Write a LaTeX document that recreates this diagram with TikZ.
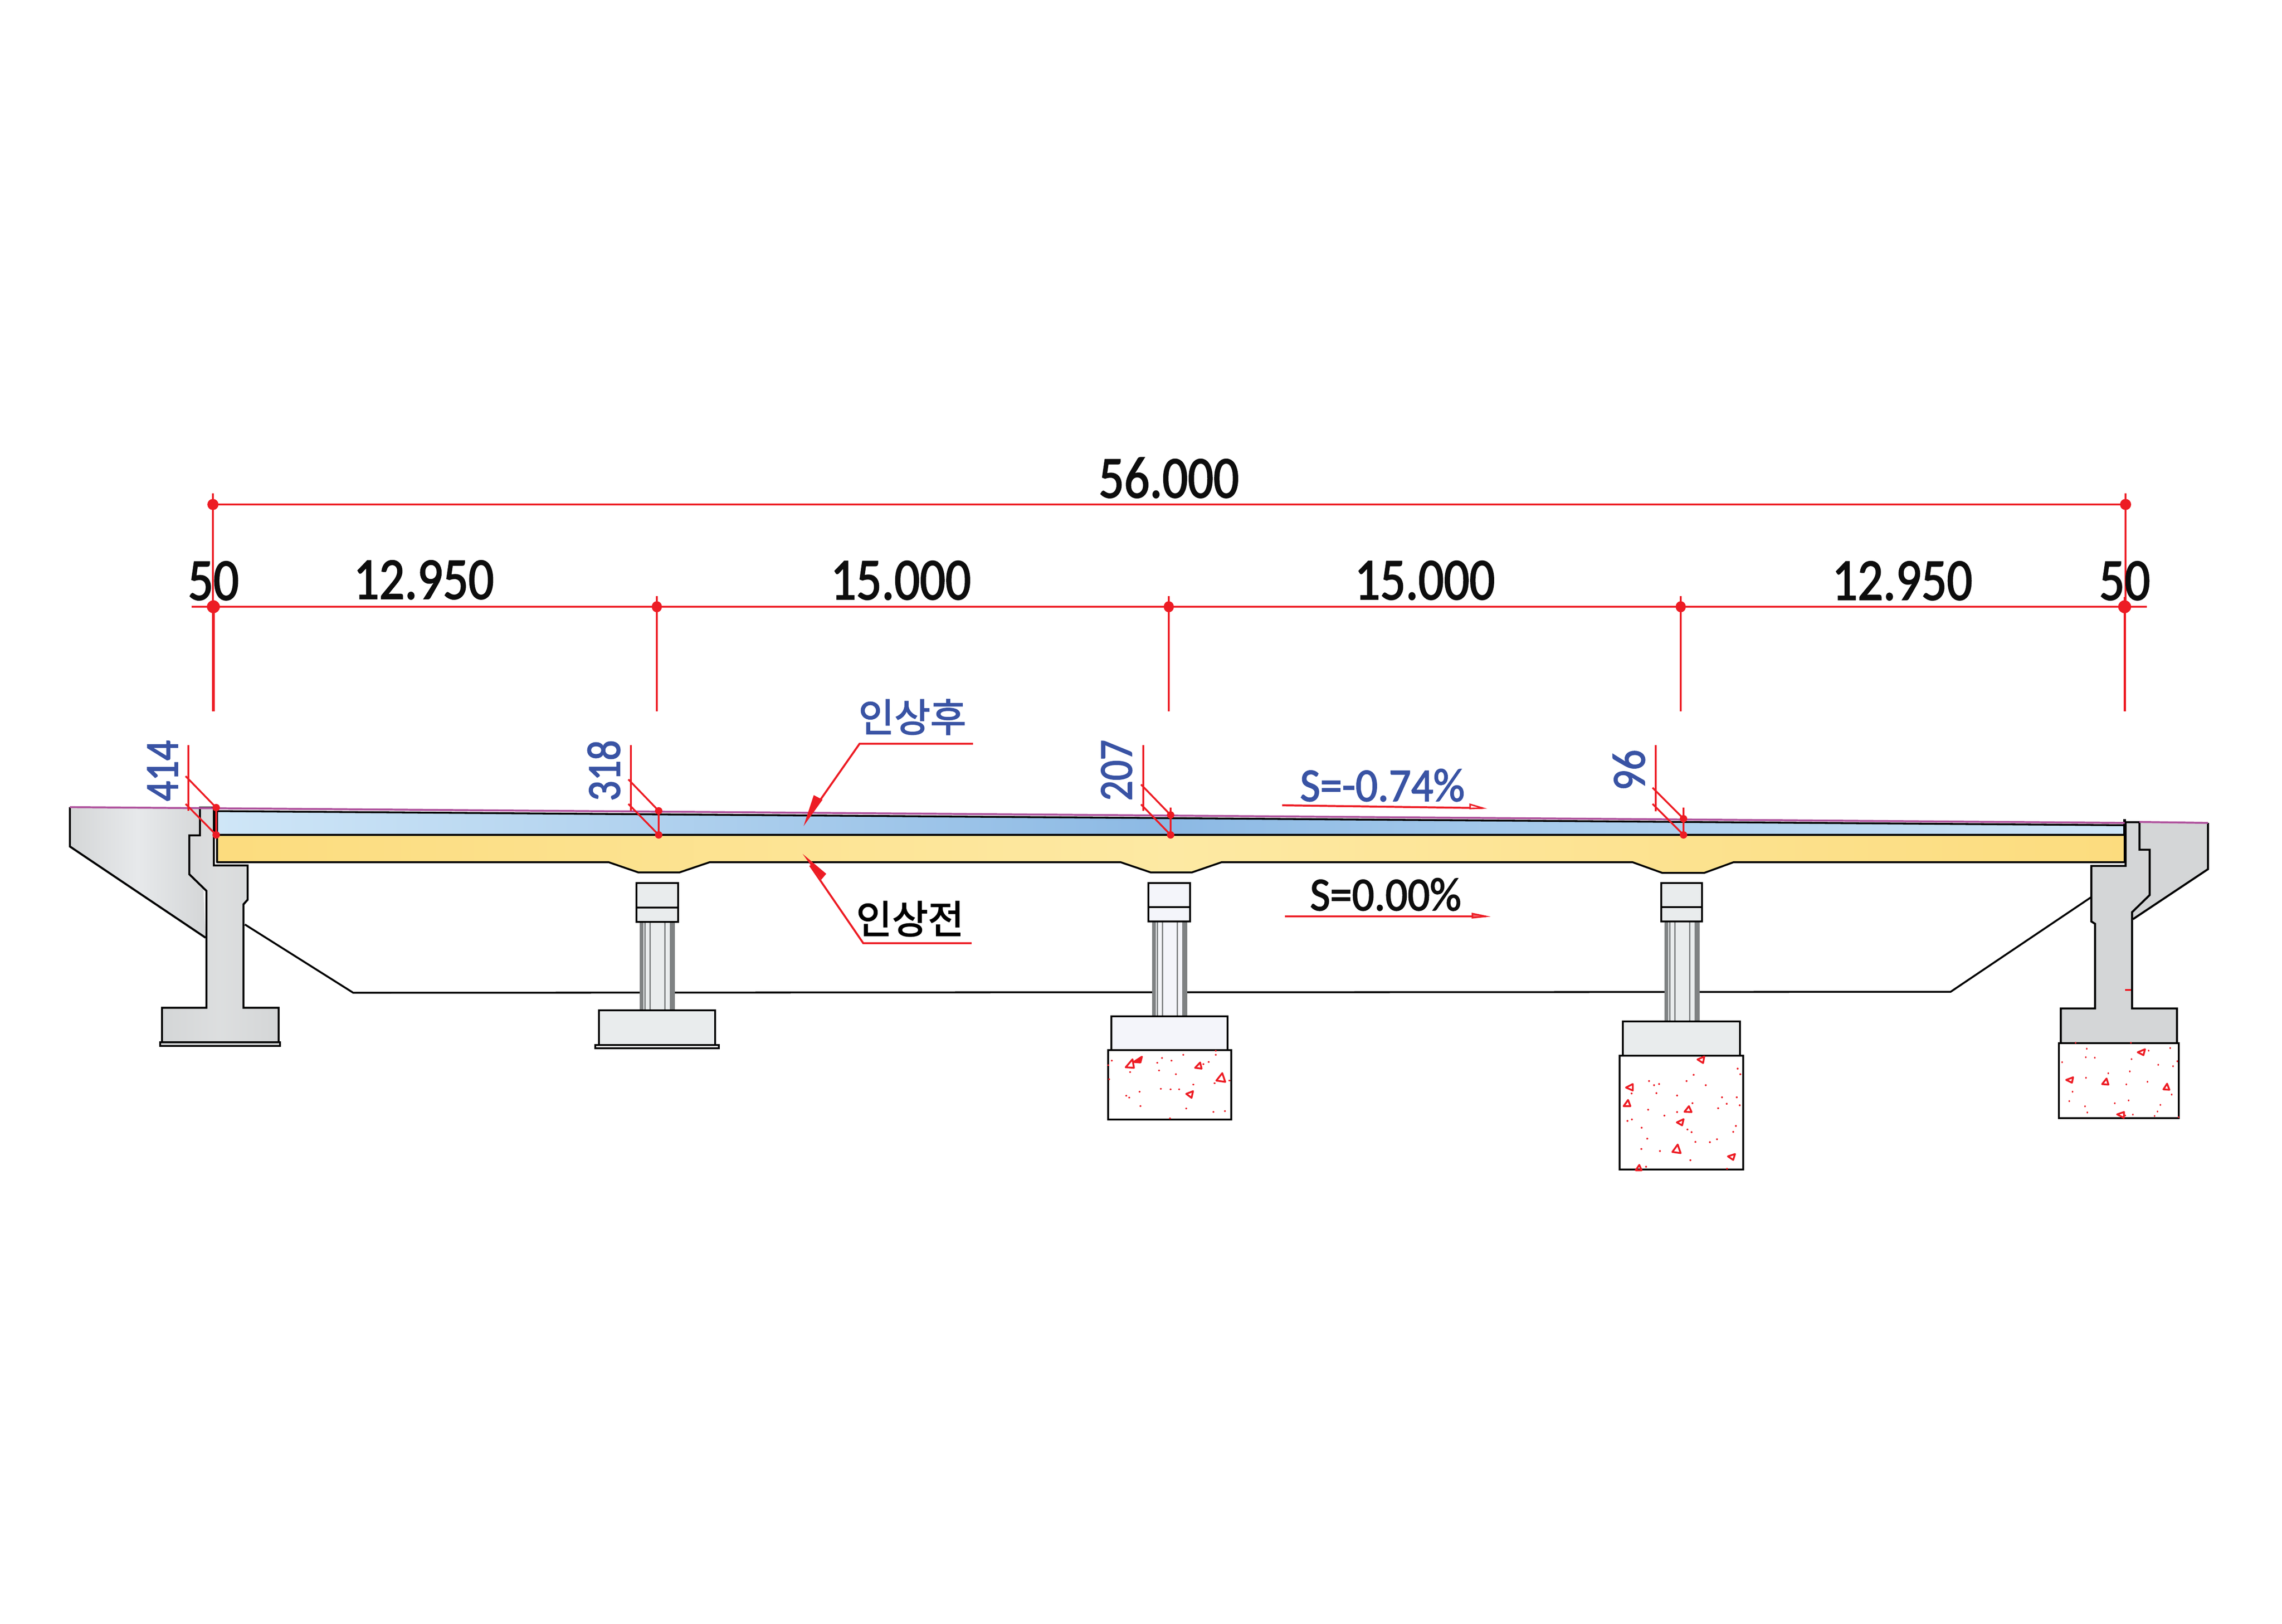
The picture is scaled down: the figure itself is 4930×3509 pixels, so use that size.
\documentclass[tikz,border=0pt]{standalone}
\usepackage{fontspec}
\setmainfont{Carlito}
\newfontfamily\dimf[FakeStretch=0.85,FakeBold=1.8]{Carlito}
\newfontfamily\dimsl[FakeStretch=0.93,FakeBold=1.8]{Carlito}
\newfontfamily\korf[FakeBold=2.2]{Noto Sans CJK KR}
\definecolor{rd}{HTML}{ED1C24}
\definecolor{mg}{HTML}{B0539E}
\definecolor{bt}{HTML}{3953A4}
\definecolor{skyA}{HTML}{CFE6F7}
\definecolor{skyB}{HTML}{8CB9E4}
\definecolor{ylA}{HTML}{FCDC7E}
\definecolor{ylB}{HTML}{FDE9A3}
\definecolor{grA}{HTML}{D4D6D7}
\definecolor{grB}{HTML}{E7E9EB}
\definecolor{stripe}{HTML}{7F8283}
\definecolor{colA}{HTML}{E9ECED}
\definecolor{colB}{HTML}{F4F5FA}
\tikzset{
  blk/.style={draw=black,line width=1.25pt,line join=miter},
  thinblk/.style={draw=black,line width=1.15pt,line join=round},
  dimln/.style={draw=rd,line width=1.2pt},
  reddot/.style={fill=rd},
  bigtxt/.style={inner sep=0pt,anchor=base,text=black!95,font=\dimf\fontsize{36.4}{40}\selectfont},
  smalltxt/.style={inner sep=0pt,anchor=base,text=bt,font=\dimf\fontsize{29}{32}\selectfont},
  slopetxt/.style={inner sep=0pt,anchor=base,text=bt,font=\dimsl\fontsize{29}{32}\selectfont},
  kor/.style={inner sep=0pt,anchor=base,font=\korf\fontsize{24}{26}\selectfont},
  spk/.style={draw=rd,line width=1.1pt,line join=round},
}
% #1 column left, #2 top, #3 bottom, #4 fill
\newcommand\pierstem[4]{%
  \fill[#4] (#1,#2) rectangle ++(76,#3-#2);
  \fill[stripe] (#1,#2) rectangle ++(8,#3-#2);
  \fill[stripe] ({#1+65},#2) rectangle ++(11,#3-#2);
  \foreach \o in {11,22,54}{\fill[stripe] ({#1+\o-1},#2) rectangle ++(2.6,#3-#2);}
}
\newcommand\dimset[9]{%
  % #1 vertical x, #2 ytop, #3 ybot, #4 slant-left x, #5 y1, #6 y2, #7 dot x, #8 dot top y, #9 tick top
  \draw[dimln,line width=1pt] (#1,#2) -- (#1,#3);
  \draw[dimln,line width=1.1pt] (#4,#5) -- (#7,#8);
  \draw[dimln,line width=1.1pt] (#4,#6) -- (#7,1804);
  \draw[dimln,line width=1.1pt] (#7,#9) -- (#7,1804);
  \fill[reddot] (#7,#8) circle[radius=8];
  \fill[reddot] (#7,1804) circle[radius=8];
}
\begin{document}
\begin{tikzpicture}[x=0.01cm,y=-0.01cm]
\useasboundingbox[fill=white] (0,0) rectangle (4930,3509);

% soffit line
\draw[thinblk] (529,1997.5) -- (763,2145) -- (4214,2143) -- (4517,1939);

% left wing + abutment
\shade[left color=grA,right color=grA,middle color=grB] (151,1744) -- (432,1745) -- (444,2026) -- (151,1829) -- cycle;
\draw[blk] (151,1744) -- (151,1829) -- (444,2026);
\path[blk,fill=grA] (346,2252) rectangle (605,2260);
\path[blk,left color=grA,right color=grA,middle color=grA!80!white] (432,1745) -- (462,1745) -- (462,1870) -- (535,1870) -- (535,1944) -- (526,1954) -- (526,2177.5) -- (602,2177.5) -- (602,2252) -- (350,2252) -- (350,2177.5) -- (446,2177.5) -- (446,1925) -- (409,1889) -- (409,1805) -- (432,1805) -- cycle;

% right wing + abutment
\shade[left color=grA,right color=grA,middle color=grA] (4622,1778) -- (4770,1778) -- (4770,1878) -- (4606,1986) -- (4606,1934) -- (4622,1900) -- cycle;
\draw[blk] (4770,1778) -- (4770,1878) -- (4608,1986);
\path[blk,fill=grA] (4592,1776.5) -- (4622,1776.5) -- (4622,1836) -- (4644,1836) -- (4644,1934) -- (4606,1971) -- (4606,2179) -- (4703,2179) -- (4703,2254) -- (4452,2254) -- (4452,2179) -- (4526,2179) -- (4526,1996) -- (4518,1991) -- (4518,1871) -- (4592,1871) -- cycle;
\draw[dimln] (4591,2139) -- (4604,2139);

% deck layers
\path[thinblk,left color=skyA,right color=skyA,middle color=skyB] (469,1752.5) -- (4590,1783) -- (4590,1804) -- (469,1804) -- cycle;
\path[thinblk,left color=ylA,right color=ylA,middle color=ylB] (469,1804) -- (4590,1804) -- (4590,1863) -- (3745,1863) -- (3682,1886) -- (3591,1886) -- (3527,1863) -- (2639,1863) -- (2575,1885) -- (2486,1885) -- (2421,1863) -- (1533,1863) -- (1468,1885) -- (1379,1885) -- (1315,1863) -- (469,1863) -- cycle;
\draw[black,line width=1.9pt] (463.5,1745) -- (463.5,1803);
\draw[black,line width=1.9pt] (4590,1770) -- (4590,1804);

% magenta top line
\draw[mg,line width=1.2pt] (151,1744) -- (4590,1778);
\draw[mg,line width=1.2pt] (4622,1776) -- (4770,1778);

% pier 1
\pierstem{1382}{1992}{2183}{colA}
\path[blk,fill=colA] (1375,1908) rectangle (1465,1992);
\draw[blk] (1375,1961) -- (1465,1961);
\path[blk,fill=colA] (1294,2183) rectangle (1545,2258);
\path[blk,fill=white] (1286,2258) rectangle (1553,2265);

% pier 2
\pierstem{2489}{1991}{2196}{colB}
\path[blk,fill=colB] (2481,1908) rectangle (2571,1991);
\draw[blk] (2481,1960) -- (2571,1960);
\path[blk,fill=colB] (2401,2196) rectangle (2652,2269);
\path[blk,fill=white] (2394,2269) rectangle (2660,2419);

% pier 3
\pierstem{3596}{1991}{2207}{colA}
\path[blk,fill=colA] (3589,1908) rectangle (3677,1991);
\draw[blk] (3589,1960) -- (3677,1960);
\path[blk,fill=colA] (3506,2207) rectangle (3759,2281);
\path[blk,fill=white] (3499,2281) rectangle (3766,2527);

% right abutment foundation
\path[blk,fill=white] (4448,2254) rectangle (4707,2416);

% specks pier 2
\begin{scope}[shift={(2250,1600)},x=0.0063775cm,y=-0.0057405cm]
\foreach \a/\b in {238/1205,226/1222,229/1275,300/1248,392/1213,408/1195,440/1205,480/1183,398/1242,455/1256,590/1168,590/1183,566/1210,548/1218,636/1280,586/1290,514/1295,404/1311,437/1313,466/1313,332/1322,287/1337,297/1344,335/1376,490/1385,582/1398,621/1395,435/1422}
  {\fill[rd] (\a,\b) circle[radius=3.2];}
\draw[spk] (285,1230) -- (308,1200) -- (313,1232) -- cycle;
\draw[spk] (520,1232) -- (537,1212) -- (542,1235) -- cycle;
\draw[spk] (592,1280) -- (612,1252) -- (622,1285) -- cycle;
\draw[spk] (490,1330) -- (513,1320) -- (508,1345) -- cycle;
\filldraw[spk,fill=rd] (312,1210) -- (340,1190) -- (335,1212) -- cycle;
\end{scope}

% specks pier 3
\begin{scope}[shift={(3350,1600)},x=0.0063775cm,y=-0.0063775cm]
\foreach \a/\b in {633/1111,642/1130,484/1132,460/1153,333/1153,350/1167,367/1163,525/1167,358/1194,274/1195,428/1202,580/1208,630/1208,596/1230,640/1235,567/1245,480/1228,330/1250,428/1258,385/1270,260/1288,275/1283,308/1311,627/1305,618/1325,463/1317,477/1326,327/1348,490/1359,539/1360,563/1350,307/1383,370/1390,473/1421,597/1450,323/1443}
  {\fill[rd] (\a,\b) circle[radius=3.2];}
\draw[spk] (497,1080) -- (520,1070) -- (516,1092) -- cycle;
\draw[spk] (255,1175) -- (278,1163) -- (278,1185) -- cycle;
\draw[spk] (247,1238) -- (262,1217) -- (270,1238) -- cycle;
\draw[spk] (453,1257) -- (468,1238) -- (477,1258) -- cycle;
\draw[spk] (427,1293) -- (450,1282) -- (445,1303) -- cycle;
\draw[spk] (412,1393) -- (430,1368) -- (440,1397) -- cycle;
\draw[spk] (600,1408) -- (624,1400) -- (618,1420) -- cycle;
\draw[spk] (288,1455) -- (300,1437) -- (308,1455) -- cycle;
\end{scope}

% specks right abutment
\begin{scope}[shift={(4200,1700)},x=0.004146cm,y=-0.005102cm]
\foreach \a/\b in {684/1085,972/1085,742/1110,737/1146,784/1148,1064/1118,1176/1107,975/1154,614/1167,1114/1178,1213/1163,1191/1184,966/1206,854/1214,738/1233,1058/1250,948/1261,668/1292,1184/1304,651/1332,960/1329,888/1341,733/1354,1125/1348,745/1380,1110/1376,982/1389,942/1393,1095/1395,1220/1400}
  {\fill[rd] (\a,\b) circle[radius=4];}
\draw[spk] (1007,1125) -- (1045,1112) -- (1037,1137) -- cycle;
\draw[spk] (635,1242) -- (671,1231) -- (665,1254) -- cycle;
\draw[spk] (822,1260) -- (845,1236) -- (855,1262) -- cycle;
\draw[spk] (1141,1282) -- (1160,1258) -- (1172,1284) -- cycle;
\draw[spk] (900,1388) -- (936,1378) -- (935,1403) -- cycle;
\end{scope}

% overall dimensions
\draw[dimln] (460,1090) -- (4592,1090);
\draw[dimln,line width=1pt] (460,1066) -- (460,1311);
\draw[dimln,line width=1.5pt] (461,1311) -- (461,1537);
\draw[dimln,line width=1pt] (4592,1066) -- (4592,1311);
\draw[dimln,line width=1.5pt] (4590.5,1290) -- (4590.5,1537);
\draw[dimln] (414,1311) -- (4638,1311);
\foreach \xx in {1419,2525,3631}{
  \draw[dimln,line width=0.95pt] (\xx,1288) -- (\xx,1537);
  \fill[reddot] (\xx,1311) circle[x radius=11,y radius=12];
}
\fill[reddot] (460,1090) circle[radius=12];
\fill[reddot] (4592,1090) circle[radius=12];
\fill[reddot] (461,1311) circle[radius=14];
\fill[reddot] (4590,1311) circle[radius=14];

% level difference marks
\dimset{407}{1610}{1752}{401}{1677}{1737}{467}{1745}{1745}
\dimset{1363}{1610}{1752}{1357.5}{1684}{1737}{1423}{1752}{1745}
\dimset{2470}{1610}{1752}{2465}{1695}{1738}{2529}{1761}{1745}
\dimset{3577}{1610}{1753}{3570}{1702}{1737}{3637}{1769}{1745}

% leaders
\draw[dimln] (2102,1607) -- (1857,1607) -- (1750,1760);
\fill[rd] (1736,1785) -- (1758,1718) -- (1777,1728) -- cycle;
\draw[dimln] (2099,2038) -- (1865,2038) -- (1750,1870);
\fill[rd] (1734,1845) -- (1785,1888) -- (1774,1901) -- cycle;

% slope arrows
\draw[dimln] (2770,1740) -- (3203,1746);
\draw[rd,line width=0.9pt,fill=white] (3176,1738) -- (3203,1746) -- (3176,1747) -- cycle;
\draw[dimln] (2776,1980) -- (3210,1980);
\draw[rd,line width=0.9pt,fill=rd!70!white] (3181,1974) -- (3210,1980) -- (3181,1983) -- cycle;

% text
\node[bigtxt] (d56) at (2525,1075) {56.000};
\node[bigtxt] (d50l) at (461,1296) {50};
\node[bigtxt] (d129l) at (915.5,1294) {12.950};
\node[bigtxt] (d15a) at (1946,1295) {15.000};
\node[bigtxt] (d15b) at (3078,1295) {15.000};
\node[bigtxt] (d129r) at (4109.5,1296) {12.950};
\node[bigtxt] (d50r) at (4590,1296) {50};
\node[smalltxt,rotate=90] (h414) at (384,1665.5) {414};
\node[smalltxt,rotate=90] (h318) at (1339,1665) {318};
\node[smalltxt,rotate=90] (h207) at (2445,1664.5) {207};
\node[smalltxt,rotate=90] (h96) at (3553,1664) {96};
\node[slopetxt] (s1) at (2986.5,1731) {S=-0.74\%};
\node[slopetxt,text=black!95] (s0) at (2993.5,1967) {S=0.00\%};
\node[kor,text=bt] (after) at (1971,1581) {인상후};
\node[kor,text=black] (before) at (1966,2017) {인상전};
\end{tikzpicture}
\end{document}
